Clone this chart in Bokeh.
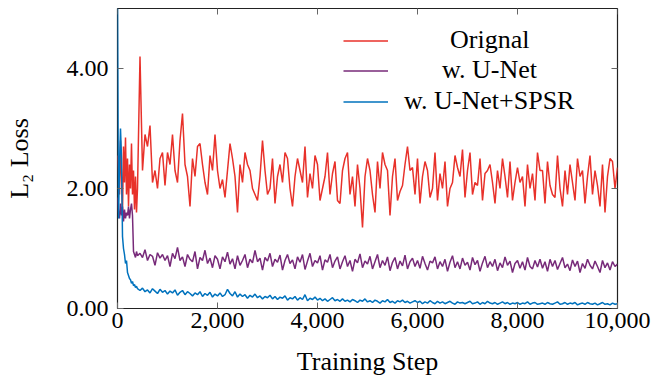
import math
from bokeh.plotting import figure
from bokeh.models import (Range1d, LinearAxis, FixedTicker, NumeralTickFormatter,
                          Legend, LegendItem, ColumnDataSource)
from bokeh.embed import file_html
from bokeh.resources import INLINE

# ---------------- data ----------------
steps = list(range(0, 401, 20)) + list(range(450, 10001, 50))

original = [
    2.55, 2.3, 1.9, 2.8, 2.2, 1.6, 2.7, 2.1, 2.85, 1.9, 2.5, 1.7, 2.4, 2.0, 2.75, 1.9, 2.3, 1.65, 2.2, 1.6, 2.0,
    4.2,
    2.3, 2.9, 2.7, 3.05, 2.1, 2.3, 2.0, 2.5, 2.6, 2.05,
    2.6, 2.4, 2.9, 2.3, 2.1, 2.8, 3.25, 2.4, 2.2, 1.7,
    2.5, 2.2, 2.7, 2.75, 2.4, 2.1, 1.9, 2.55, 2.3, 2.9,
    2.3, 2.0, 2.15, 1.85, 2.3, 2.75, 2.5, 2.2, 1.6, 2.4,
    2.1, 2.6, 2.4, 2.3, 2.0, 1.9, 1.8, 2.2, 2.8, 2.3,
    1.9, 2.0, 2.5, 1.75, 2.2, 2.4, 2.1, 2.6, 2.5, 2.0,
    1.7, 2.2, 2.5, 2.3, 2.1, 2.7, 1.85, 2.25, 2.0, 2.55,
    2.4, 1.8, 2.0, 2.2, 2.6, 1.9, 2.25, 2.45, 1.8, 1.75,
    2.3, 2.5, 2.6, 1.9, 2.2, 1.7, 2.4, 2.0, 1.35, 2.2,
    2.5, 2.3, 1.9, 1.6, 2.45, 2.0, 2.6, 2.4, 2.3, 1.55,
    2.2, 2.5, 1.8, 1.95, 2.05, 2.4, 2.7, 2.3, 2.35, 1.9,
    2.5, 1.75, 2.2, 2.45, 2.3, 1.85, 2.0, 2.6, 1.8, 2.25,
    2.0, 2.45, 1.7, 2.0, 2.1, 2.55, 2.35, 2.2, 2.65, 1.85,
    2.3, 2.6, 1.9, 2.1, 2.05, 2.5, 1.8, 2.25, 2.3, 2.4,
    2.1, 1.75, 2.3, 2.0, 2.5, 2.2, 1.85, 2.45, 1.8, 2.1,
    2.35, 2.1, 2.2, 1.7, 2.4, 2.0, 2.25, 1.8, 2.6, 2.3,
    2.3, 1.75, 2.45, 2.05, 1.9, 1.85, 2.55, 2.0, 1.7, 2.3,
    1.9, 2.4, 2.1, 1.8, 2.5, 2.2, 2.3, 1.75, 2.2, 2.55,
    1.9, 2.3, 2.05, 1.7, 2.4, 1.6, 2.2, 2.5, 2.45, 2.0,
    2.35,
]

unet = [
    1.85, 1.6, 1.5, 1.75, 1.55, 1.7, 1.45, 1.65, 1.5, 1.6, 1.55, 1.7, 1.5, 1.65, 1.75, 1.55, 0.95, 0.9, 0.85, 0.95, 0.88,
    0.92,
    0.85, 0.98, 0.8, 0.9, 0.87, 0.72, 0.93, 0.84, 0.9, 0.8,
    0.88, 0.7, 0.92, 0.83, 1.02, 0.8, 0.86, 0.7, 0.9, 0.82,
    0.78, 0.95, 0.66, 0.85, 0.8, 0.97, 0.75, 0.84, 0.68, 0.88,
    0.82, 0.66, 0.86, 0.78, 0.94, 0.74, 0.83, 0.66, 0.88, 0.72,
    0.8, 0.9, 0.68, 0.82, 0.76, 0.97, 0.78, 0.84, 0.64, 0.85,
    0.79, 0.92, 0.7, 0.82, 0.77, 0.89, 0.64, 0.8, 0.9, 0.75,
    0.81, 0.66, 0.86, 0.77, 0.9, 0.65, 0.79, 0.92, 0.7, 0.8,
    0.76, 0.88, 0.64, 0.81, 0.77, 0.9, 0.68, 0.79, 0.86, 0.66,
    0.78, 0.88, 0.7, 0.8, 0.62, 0.82, 0.76, 0.91, 0.68, 0.79,
    0.74, 0.87, 0.66, 0.78, 0.9, 0.68, 0.8, 0.72, 0.86, 0.63,
    0.77, 0.85, 0.66, 0.79, 0.71, 0.89, 0.66, 0.78, 0.84, 0.7,
    0.8, 0.67, 0.87, 0.75, 0.64, 0.79, 0.76, 0.86, 0.66, 0.78,
    0.7, 0.82, 0.62, 0.77, 0.88, 0.68, 0.78, 0.66, 0.84, 0.72,
    0.77, 0.64, 0.85, 0.73, 0.8, 0.62, 0.76, 0.87, 0.68, 0.78,
    0.7, 0.82, 0.63, 0.76, 0.68, 0.86, 0.72, 0.79, 0.6, 0.75,
    0.8, 0.67, 0.78, 0.64, 0.85, 0.7, 0.66, 0.8, 0.69, 0.82,
    0.67, 0.78, 0.62, 0.82, 0.7, 0.8, 0.65, 0.75, 0.85, 0.68,
    0.74, 0.63, 0.81, 0.7, 0.79, 0.6, 0.75, 0.67, 0.82, 0.72,
    0.66, 0.79, 0.7, 0.6, 0.8, 0.68, 0.76, 0.64, 0.78, 0.7,
    0.74,
]

spsr = [
    5.2, 1.5, 2.4, 3.0, 2.5, 1.2, 1.0, 0.9, 0.75, 0.8, 0.6, 0.55, 0.5, 0.48, 0.42, 0.45, 0.38, 0.4, 0.35, 0.37, 0.33,
    0.3,
    0.34, 0.28, 0.31, 0.26, 0.33, 0.29, 0.25, 0.32, 0.27, 0.3,
    0.24, 0.29, 0.26, 0.31, 0.22, 0.27, 0.3, 0.23, 0.28, 0.25,
    0.21, 0.26, 0.23, 0.28, 0.2, 0.25, 0.22, 0.27, 0.19, 0.24,
    0.21, 0.26, 0.2, 0.23, 0.32, 0.25, 0.21, 0.28, 0.19, 0.24,
    0.2, 0.23, 0.17, 0.22, 0.19, 0.24, 0.18, 0.21, 0.16, 0.2,
    0.18, 0.22, 0.16, 0.2, 0.15, 0.19, 0.17, 0.21, 0.14, 0.18,
    0.16, 0.2, 0.14, 0.18, 0.15, 0.23, 0.13, 0.17, 0.15, 0.19,
    0.14, 0.17, 0.13, 0.16, 0.12, 0.15, 0.18, 0.13, 0.15, 0.12,
    0.16, 0.12, 0.14, 0.11, 0.15, 0.13, 0.1, 0.14, 0.12, 0.16,
    0.11, 0.13, 0.1, 0.14, 0.12, 0.09, 0.13, 0.11, 0.15, 0.1,
    0.12, 0.09, 0.13, 0.11, 0.14, 0.1, 0.12, 0.09, 0.11, 0.13,
    0.1, 0.12, 0.08, 0.11, 0.09, 0.13, 0.1, 0.08, 0.12, 0.09,
    0.11, 0.08, 0.1, 0.12, 0.09, 0.07, 0.11, 0.09, 0.1, 0.08,
    0.1, 0.12, 0.08, 0.09, 0.11, 0.07, 0.1, 0.08, 0.12, 0.09,
    0.08, 0.1, 0.07, 0.09, 0.11, 0.08, 0.1, 0.07, 0.09, 0.08,
    0.1, 0.07, 0.09, 0.08, 0.11, 0.07, 0.09, 0.1, 0.07, 0.08,
    0.09, 0.07, 0.1, 0.08, 0.07, 0.09, 0.11, 0.07, 0.08, 0.1,
    0.07, 0.09, 0.08, 0.1, 0.06, 0.08, 0.09, 0.07, 0.1, 0.08,
    0.07, 0.09, 0.06, 0.08, 0.1, 0.07, 0.08, 0.06, 0.09, 0.07,
    0.08,
]

series_names = ["Orignal", "w. U-Net", "w. U-Net+SPSR"]
series_colors = ["#E8312A", "#772A79", "#0072BD"]
x_ticks = [0, 2000, 4000, 6000, 8000, 10000]
y_ticks = [0, 2, 4]

FONT = "Liberation Serif"
TICK_FS = "24px"
LABEL_FS = "26px"
TICK_COLOR = "#666666"

x_range = Range1d(0, 10000)
y_range = Range1d(0, 5)

p = figure(width=655, height=384, output_backend="svg", toolbar_location=None,
           x_range=x_range, y_range=y_range,
           min_border_left=117, min_border_right=38, min_border_top=8, min_border_bottom=76,
           x_axis_location=None, y_axis_location=None)
p.background_fill_color = "white"
p.border_fill_color = "white"
p.outline_line_color = "#222222"
p.outline_line_width = 1.2
p.xgrid.visible = False
p.ygrid.visible = False

src = ColumnDataSource(dict(x=steps, a=original, b=unet, c=spsr))
renderers = []
for col, c in zip(["a", "b", "c"], series_colors):
    renderers.append(p.line("x", col, source=src, line_color=c, line_width=1.5))

# mirrored inward ticks on the top and right frame edges (half of each dash is clipped by the frame)
p.scatter(x=x_ticks, y=[y_range.end] * len(x_ticks), marker="dash", size=12, angle=math.pi / 2,
          line_color=TICK_COLOR, line_width=1)
p.scatter(x=[x_range.end] * len(y_ticks), y=y_ticks, marker="dash", size=12,
          line_color=TICK_COLOR, line_width=1)


def style_axis(ax):
    ax.axis_line_color = None
    ax.major_tick_in = 6
    ax.major_tick_out = 0
    ax.minor_tick_line_color = None
    ax.major_tick_line_color = TICK_COLOR
    ax.major_tick_line_width = 1
    ax.major_label_text_font = FONT
    ax.major_label_text_font_size = TICK_FS
    ax.major_label_text_color = "black"
    ax.axis_label_text_font = FONT
    ax.axis_label_text_font_size = LABEL_FS
    ax.axis_label_text_font_style = "normal"
    ax.axis_label_text_color = "black"


xb = LinearAxis(ticker=FixedTicker(ticks=x_ticks), formatter=NumeralTickFormatter(format="0,0"))
style_axis(xb)
xb.major_label_standoff = 4
xb.axis_label = "Training Step"
xb.axis_label_standoff = 16
p.add_layout(xb, "below")

yl = LinearAxis(ticker=FixedTicker(ticks=y_ticks), formatter=NumeralTickFormatter(format="0.00"))
style_axis(yl)
yl.major_label_standoff = 9
yl.axis_label = "L\u2082 Loss"
yl.axis_label_standoff = 30
p.add_layout(yl, "left")

# legend: one block per row so each label can be centred like the reference
label_widths = [79, 97, 172]          # approx. rendered widths of the labels (px)
row_bottoms = [253, 223, 192]         # frame-relative bottom of each legend row (px)
for name, r, w, yb in zip(series_names, renderers, label_widths, row_bottoms):
    lg = Legend(items=[LegendItem(label=name, renderers=[r])], location=(226, yb))
    lg.border_line_color = None
    lg.background_fill_alpha = 0
    lg.padding = 0
    lg.margin = 0
    lg.spacing = 0
    lg.glyph_width = 45
    lg.glyph_height = 25
    lg.label_height = 25
    lg.label_standoff = int(round(102 - w / 2))
    lg.label_text_font = FONT
    lg.label_text_font_size = LABEL_FS
    lg.label_text_color = "black"
    p.add_layout(lg, "center")

open("out.html", "w").write(file_html(p, INLINE))
